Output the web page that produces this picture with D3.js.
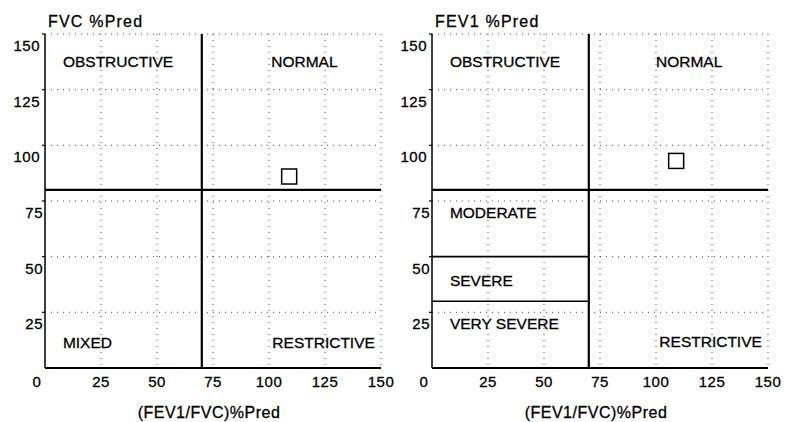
<!DOCTYPE html>
<html><head><meta charset="utf-8">
<script src="https://cdn.jsdelivr.net/npm/d3@7"></script>
<style>body{margin:0;background:#fff}svg{display:block}text{font-family:"Liberation Sans",Arial,sans-serif;fill:#000;stroke:#000;stroke-width:0.3px}</style>
</head><body>
<svg id="c" width="798" height="422"></svg>
<script>
const xTicks = [0, 25, 50, 75, 100, 125, 150];
const yTicks = [25, 50, 75, 100, 125, 150];
const gridValues = [25, 50, 75, 100, 125, 150];
const ratioCut = 70;
const fvcCut = 80;
const fev1Cut = 80;
const severeCut = 50;
const verySevereCut = 30;
const fvcPoint = [{ x: 109, y: 86 }];
const fev1Point = [{ x: 109, y: 93 }];
const fvcLabels = [
  { text: "OBSTRUCTIVE", x: 8, y: 135 },
  { text: "NORMAL", x: 101, y: 135 },
  { text: "MIXED", x: 8, y: 9 },
  { text: "RESTRICTIVE", x: 101.5, y: 9 }
];
const fev1Labels = [
  { text: "OBSTRUCTIVE", x: 8, y: 135 },
  { text: "NORMAL", x: 100, y: 135 },
  { text: "MODERATE", x: 8, y: 67.4 },
  { text: "SEVERE", x: 8, y: 37 },
  { text: "VERY SEVERE", x: 8, y: 17.5 },
  { text: "RESTRICTIVE", x: 101.5, y: 9.5 }
];
const xTitle = "(FEV1/FVC)%Pred";

const svg = d3.select("#c");
const plotTop = 34, plotBottom = 368, pw = 336;

function panel(left, yTitle, cutY, extraCuts, points, labels) {
  const H = plotBottom - plotTop;
  const x = d3.scaleLinear().domain([0, 150]).range([0, pw]);
  const y = d3.scaleLinear().domain([0, 150]).range([H, 0]);
  const g = svg.append("g").attr("transform", `translate(${left},${plotTop})`);

  g.selectAll(".gx").data(gridValues).enter().append("line")
    .attr("x1", d => x(d)).attr("x2", d => x(d)).attr("y1", 0).attr("y2", H)
    .attr("stroke", "#000").attr("stroke-width", 1).attr("stroke-dasharray", "1,5").attr("opacity", 0.7);
  g.selectAll(".gy").data(gridValues).enter().append("line")
    .attr("y1", d => y(d)).attr("y2", d => y(d)).attr("x1", 0).attr("x2", pw)
    .attr("stroke", "#000").attr("stroke-width", 1).attr("stroke-dasharray", "1,5").attr("opacity", 0.7);

  g.append("line").attr("x1", 0).attr("x2", 0).attr("y1", 0).attr("y2", H).attr("stroke", "#000").attr("stroke-width", 1.5);
  g.append("line").attr("x1", 0).attr("x2", pw).attr("y1", H).attr("y2", H).attr("stroke", "#000").attr("stroke-width", 2);

  g.selectAll(".yt").data(yTicks).enter().append("line")
    .attr("x1", -3).attr("x2", 0).attr("y1", d => y(d)).attr("y2", d => y(d)).attr("stroke", "#000").attr("stroke-width", 1.2);
  g.selectAll(".yl").data(yTicks).enter().append("text")
    .attr("x", d => String(d).length === 3 ? -5 : -2)
    .attr("y", d => y(d) + 17)
    .attr("text-anchor", "end").attr("font-size", 15).attr("letter-spacing", 0.5)
    .text(d => d);

  g.selectAll(".xl").data(xTicks).enter().append("text")
    .attr("x", d => x(d) + (d === 0 ? -8 : 0))
    .attr("y", H + 19)
    .attr("text-anchor", "middle").attr("font-size", 15).attr("letter-spacing", 0.5)
    .text(d => d);

  g.append("line").attr("x1", x(ratioCut)).attr("x2", x(ratioCut)).attr("y1", 0).attr("y2", H)
    .attr("stroke", "#000").attr("stroke-width", 2.2);
  g.append("line").attr("x1", 0).attr("x2", pw).attr("y1", y(cutY)).attr("y2", y(cutY))
    .attr("stroke", "#000").attr("stroke-width", 2.2);
  g.selectAll(".ec").data(extraCuts).enter().append("line")
    .attr("x1", 0).attr("x2", x(ratioCut)).attr("y1", d => y(d)).attr("y2", d => y(d))
    .attr("stroke", "#000").attr("stroke-width", 1.6);

  g.selectAll(".rl").data(labels).enter().append("text")
    .attr("x", d => x(d.x)).attr("y", d => y(d.y))
    .attr("font-size", 15.5)
    .text(d => d.text);

  g.selectAll(".pt").data(points).enter().append("rect")
    .attr("x", d => x(d.x) - 7.5).attr("y", d => y(d.y) - 7.5)
    .attr("width", 15).attr("height", 15)
    .attr("fill", "#fff").attr("stroke", "#000").attr("stroke-width", 1.5);

  svg.append("text").attr("x", left + 3).attr("y", 27).attr("font-size", 16).attr("letter-spacing", 1.2).text(yTitle);
  svg.append("text").attr("x", left + pw / 2 - 4).attr("y", 418).attr("text-anchor", "middle")
    .attr("font-size", 16).attr("letter-spacing", 0.5).text(xTitle);
}

panel(45, "FVC %Pred", fvcCut, [], fvcPoint, fvcLabels);
panel(432, "FEV1 %Pred", fev1Cut, [severeCut, verySevereCut], fev1Point, fev1Labels);
</script>
</body></html>
